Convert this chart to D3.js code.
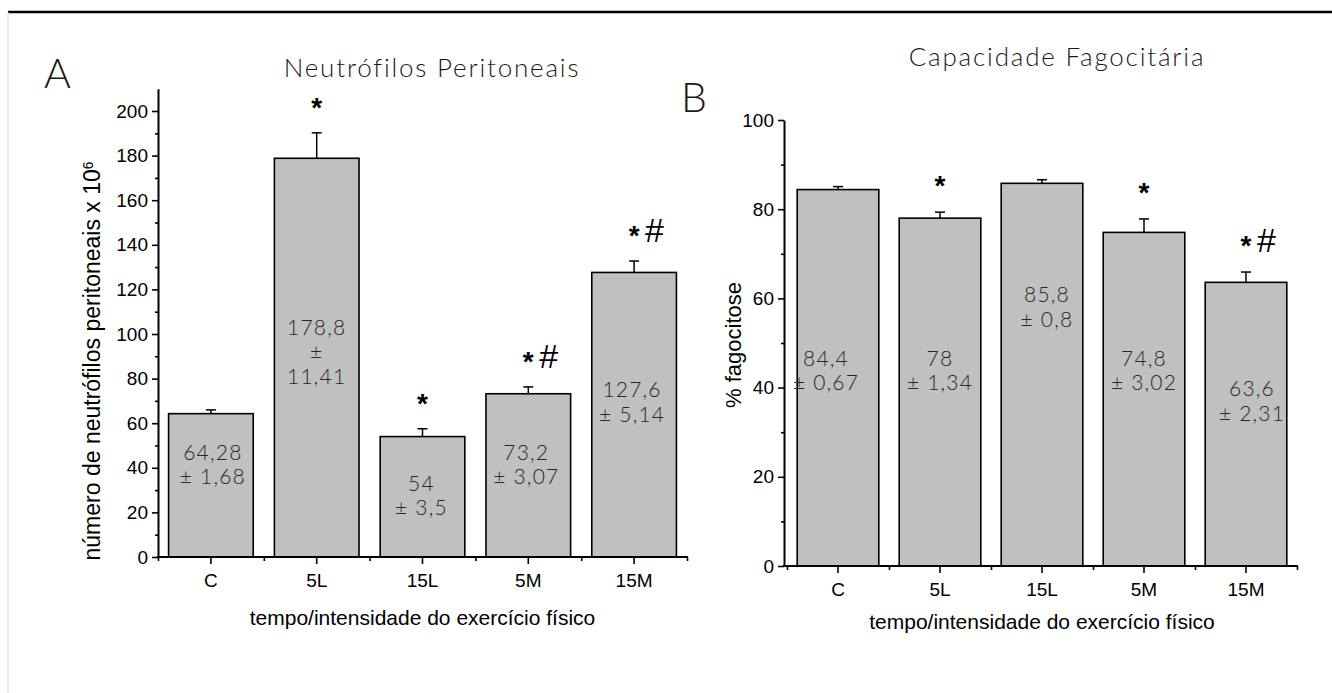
<!DOCTYPE html>
<html><head><meta charset="utf-8">
<script src="https://cdn.jsdelivr.net/npm/d3@7"></script>
<style>body{margin:0;background:#fff}svg{display:block}</style>
</head><body>
<svg id="chart" width="1332" height="693"></svg>
<script>
// ---------- data ----------
const categories = ["C", "5L", "15L", "5M", "15M"];

const neutroMean = [64.28, 178.8, 54, 73.2, 127.6];
const neutroSem = [1.68, 11.41, 3.5, 3.07, 5.14];
const neutroText = [["64,28", "± 1,68"], ["178,8", "±", "11,41"], ["54", "± 3,5"], ["73,2", "± 3,07"], ["127,6", "± 5,14"]];
const neutroSig = ["", "*", "*", "*#", "*#"];
const neutroTicks = [0, 20, 40, 60, 80, 100, 120, 140, 160, 180, 200];
const neutroMinor = [10, 30, 50, 70, 90, 110, 130, 150, 170, 190];

const fagoMean = [84.4, 78, 85.8, 74.8, 63.6];
const fagoSem = [0.67, 1.34, 0.8, 3.02, 2.31];
const fagoText = [["84,4", "± 0,67"], ["78", "± 1,34"], ["85,8", "± 0,8"], ["74,8", "± 3,02"], ["63,6", "± 2,31"]];
const fagoSig = ["", "*", "", "*", "*#"];
const fagoTicks = [0, 20, 40, 60, 80, 100];
const fagoMinor = [10, 30, 50, 70, 90];

// annotation anchors (value units, where first text line is centred) and small x nudges
const neutroTextAt = [47, 103, 33, 47, 75];
const neutroTextDx = [2, 0, -1, -2, -2];
const fagoTextAt = [46.6, 46.6, 60.8, 46.6, 39.7];
const fagoTextDx = [-12, 0, 5, 0, 6];

// ---------- layout ----------
const svg = d3.select("#chart");
const TICK_FONT = "'Liberation Sans Narrow', 'Arial Narrow', Arial, sans-serif";
const TITLE_FONT = "'Liberation Sans', Arial, sans-serif";
const LIGHT_FONT = "Lato, 'Open Sans', 'DejaVu Sans', sans-serif";

// frame
svg.append("line").attr("x1", 8).attr("x2", 1332).attr("y1", 12).attr("y2", 12)
  .attr("stroke", "#000").attr("stroke-width", 2.5);
svg.append("line").attr("x1", 8).attr("x2", 8).attr("y1", 12).attr("y2", 693)
  .attr("stroke", "#d8d8d8").attr("stroke-width", 1);

function panel(cfg) {
  const g = svg.append("g");
  const y = d3.scaleLinear().domain([0, cfg.yMax]).range([cfg.y0, cfg.yTop]);
  const x = d3.scaleBand().domain(categories).range([cfg.bx0, cfg.bx1])
    .paddingInner(0.2).paddingOuter(0.1);

  // bars
  g.selectAll("rect.bar").data(cfg.mean).join("rect")
    .attr("x", (d, i) => x(categories[i]))
    .attr("y", d => y(d))
    .attr("width", x.bandwidth())
    .attr("height", d => y(0) - y(d))
    .attr("fill", "#c0c0c0").attr("stroke", "#000").attr("stroke-width", 1.6);

  // error bars (upper only)
  const eb = g.selectAll("g.eb").data(cfg.mean).join("g");
  eb.append("line")
    .attr("x1", (d, i) => x(categories[i]) + x.bandwidth() / 2)
    .attr("x2", (d, i) => x(categories[i]) + x.bandwidth() / 2)
    .attr("y1", d => y(d))
    .attr("y2", (d, i) => y(d + cfg.sem[i]))
    .attr("stroke", "#000").attr("stroke-width", 1.5);
  eb.append("line")
    .attr("x1", (d, i) => x(categories[i]) + x.bandwidth() / 2 - 5)
    .attr("x2", (d, i) => x(categories[i]) + x.bandwidth() / 2 + 5)
    .attr("y1", (d, i) => y(d + cfg.sem[i]))
    .attr("y2", (d, i) => y(d + cfg.sem[i]))
    .attr("stroke", "#000").attr("stroke-width", 1.5);

  // value labels inside bars
  cfg.text.forEach((lines, i) => {
    const cx = x(categories[i]) + x.bandwidth() / 2 + cfg.textDx[i];
    const cy = y(cfg.textAt[i]);
    lines.forEach((t, k) => {
      g.append("text").attr("x", cx).attr("y", cy + k * 24.5)
        .attr("dy", "0.36em")
        .attr("text-anchor", "middle")
        .attr("font-family", LIGHT_FONT).attr("font-weight", 300)
        .attr("font-size", 21).attr("letter-spacing", "1.2px")
        .attr("fill", "#262626").text(t);
    });
  });

  // significance markers
  cfg.sig.forEach((s, i) => {
    if (!s) return;
    const cx = x(categories[i]) + x.bandwidth() / 2;
    const top = y(cfg.mean[i] + cfg.sem[i]);
    g.append("text").attr("x", cx).attr("y", top - cfg.sigGap + 16)
      .attr("text-anchor", "middle")
      .attr("font-family", TITLE_FONT).attr("font-weight", "bold").attr("font-size", 28)
      .text("*");
    if (s.includes("#")) {
      g.append("text").attr("x", cx + 11).attr("y", top - cfg.sigGap + 13)
        .attr("font-family", TITLE_FONT).attr("font-size", 34)
        .text("#");
    }
  });

  // y axis (major + minor)
  const yAxis = g.append("g").attr("transform", `translate(${cfg.axisX},0)`)
    .call(d3.axisLeft(y).tickValues(cfg.ticks).tickSize(6).tickSizeOuter(0).tickPadding(4));
  yAxis.select(".domain").attr("stroke-width", 2);
  yAxis.selectAll(".tick line").attr("stroke-width", 1.6);
  yAxis.selectAll(".tick text").attr("font-family", TICK_FONT).attr("font-size", 19).attr("fill", "#000");
  const yMinor = g.append("g").attr("transform", `translate(${cfg.axisX},0)`)
    .call(d3.axisLeft(y).tickValues(cfg.minor).tickSize(3).tickFormat(""));
  yMinor.select(".domain").remove();
  yMinor.selectAll(".tick line").attr("stroke-width", 1.6);

  // x axis: base line, category ticks, boundary ticks
  const xAxis = g.append("g").attr("transform", `translate(0,${cfg.y0})`)
    .call(d3.axisBottom(x).tickSize(7).tickSizeOuter(0).tickPadding(10));
  xAxis.select(".domain").remove();
  xAxis.selectAll(".tick line").attr("stroke-width", 1.6);
  xAxis.selectAll(".tick text").attr("font-family", TICK_FONT).attr("font-size", 19).attr("fill", "#000");
  const bounds = categories.map(c => x(c) - x.step() * 0.1).concat([cfg.bx1]);
  const bx = d3.scaleLinear().domain([0, 1332]).range([0, 1332]);
  const xb = g.append("g").attr("transform", `translate(0,${cfg.y0})`)
    .call(d3.axisBottom(bx).tickValues(bounds).tickSize(4).tickFormat("").tickSizeOuter(0));
  xb.select(".domain").remove();
  xb.selectAll(".tick line").attr("stroke-width", 1.6);
  g.append("line").attr("x1", cfg.axisX - 1).attr("x2", cfg.bx1 + 1)
    .attr("y1", cfg.y0).attr("y2", cfg.y0).attr("stroke", "#000").attr("stroke-width", 2);

  // axis titles
  g.append("text").attr("x", (cfg.bx0 + cfg.bx1) / 2).attr("y", cfg.xTitleY)
    .attr("text-anchor", "middle").attr("font-family", TITLE_FONT).attr("font-size", 21)
    .text("tempo/intensidade do exercício físico");
  const yt = g.append("text")
    .attr("transform", `translate(${cfg.yTitleX},${cfg.yTitleY}) rotate(-90)`)
    .attr("text-anchor", "middle").attr("font-family", TITLE_FONT).attr("font-size", cfg.yTitleSize);
  yt.append("tspan").text(cfg.yTitle);
  if (cfg.yTitleSup) yt.append("tspan").attr("dy", "-0.5em").attr("font-size", cfg.yTitleSize * 0.6).text(cfg.yTitleSup);

  // chart title + panel letter
  g.append("text").attr("x", cfg.titleX).attr("y", cfg.titleY)
    .attr("text-anchor", "middle").attr("font-family", LIGHT_FONT).attr("font-weight", 300)
    .attr("font-size", 26).attr("letter-spacing", "1.8px").attr("fill", "#1a1a1a")
    .text(cfg.title);
  g.append("text").attr("x", cfg.letterX).attr("y", cfg.letterY)
    .attr("font-family", LIGHT_FONT).attr("font-weight", 300).attr("font-size", 41).attr("fill", "#1a1a1a")
    .text(cfg.letter);
}

panel({
  mean: neutroMean, sem: neutroSem, text: neutroText, textAt: neutroTextAt, textDx: neutroTextDx, sig: neutroSig,
  ticks: neutroTicks, minor: neutroMinor, yMax: 210,
  y0: 557, yTop: 557 - 210 * 2.23, axisX: 158, bx0: 158, bx1: 687, sigGap: 32,
  xTitleY: 625, yTitleX: 100, yTitleY: 361, yTitleSize: 23,
  yTitle: "número de neutrófilos peritoneais x 10", yTitleSup: "6",
  title: "Neutrófilos Peritoneais", titleX: 432, titleY: 77,
  letter: "A", letterX: 44, letterY: 88
});

panel({
  mean: fagoMean, sem: fagoSem, text: fagoText, textAt: fagoTextAt, textDx: fagoTextDx, sig: fagoSig,
  ticks: fagoTicks, minor: fagoMinor, yMax: 100,
  y0: 566, yTop: 120, axisX: 784, bx0: 787, bx1: 1297, sigGap: 33,
  xTitleY: 629, yTitleX: 741, yTitleY: 345, yTitleSize: 22,
  yTitle: "% fagocitose", yTitleSup: "",
  title: "Capacidade Fagocitária", titleX: 1057, titleY: 66,
  letter: "B", letterX: 681, letterY: 112
});
</script>
</body></html>
